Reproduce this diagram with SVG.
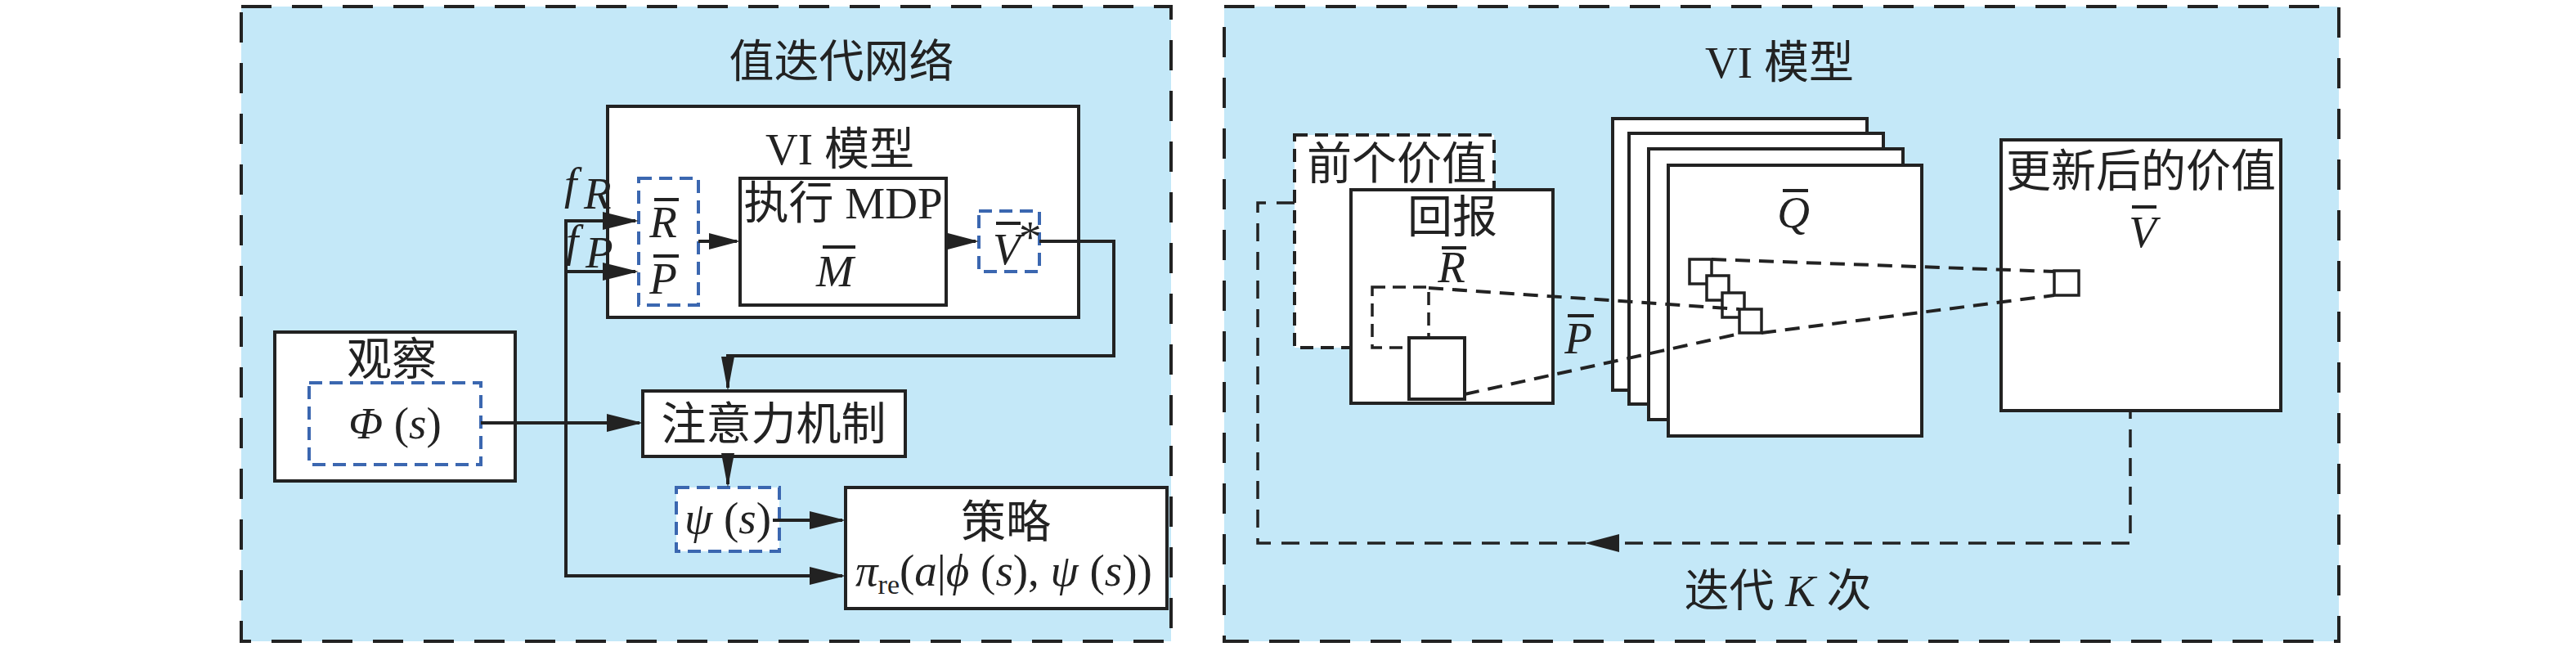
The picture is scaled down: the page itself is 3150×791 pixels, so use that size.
<svg xmlns="http://www.w3.org/2000/svg" width="3150" height="791" viewBox="0 0 3150 791">
<defs>
<style>
.panel{fill:#c4e8f8;stroke:#222;stroke-width:4;stroke-dasharray:37 25}
.box{fill:#fff;stroke:#222;stroke-width:4}
.bdash{fill:#fff;stroke:#3b67b0;stroke-width:4;stroke-dasharray:16 9}
.kdash{fill:#fff;stroke:#222;stroke-width:4;stroke-dasharray:16 9}
.kdash2{fill:none;stroke:#222;stroke-width:3.5;stroke-dasharray:16 9}
.sm{fill:#fff;stroke:#222;stroke-width:3.5}
.ln{fill:none;stroke:#222;stroke-width:4}
.dl{fill:none;stroke:#222;stroke-width:4;stroke-dasharray:18 11}
.loop{fill:none;stroke:#222;stroke-width:3.5;stroke-dasharray:22 13}
.bar{stroke:#222;stroke-width:4}
text{font-family:"Liberation Serif","Noto Sans CJK SC",serif;fill:#222;font-size:55px}
.m{font-style:italic}
.c{text-anchor:middle}
</style>
<marker id="ah" markerUnits="userSpaceOnUse" markerWidth="44" markerHeight="24" refX="40" refY="12" orient="auto"><path d="M0,1 L44,12 L0,23 Z" fill="#222"/></marker>
<marker id="ahs" markerUnits="userSpaceOnUse" markerWidth="38" markerHeight="22" refX="34" refY="11" orient="auto"><path d="M0,1 L38,11 L0,21 Z" fill="#222"/></marker>
<marker id="ahn" markerUnits="userSpaceOnUse" markerWidth="42" markerHeight="18" refX="38" refY="9" orient="auto"><path d="M0,1 L42,9 L0,17 Z" fill="#222"/></marker>
</defs>
<rect x="0" y="0" width="3150" height="791" fill="#fff"/>

<g id="panel-left">
<rect class="panel" x="295" y="8" width="1137" height="776"/>
<text class="c" x="1029" y="94" font-size="54">值迭代网络</text>
</g>

<g id="vi-box">
<rect class="box" x="743" y="130" width="576" height="258"/>
<text class="c" x="1027" y="201" font-size="54">VI 模型</text>
</g>

<g id="mdp-box">
<rect class="box" x="905" y="218" width="252" height="155"/>
<text class="c" x="1031" y="267">执行 MDP</text>
<text class="m c" x="1021" y="350" font-size="56">M</text>
<line class="bar" x1="1006" y1="302" x2="1046" y2="302"/>
</g>

<g id="rp-box">
<rect class="bdash" x="781" y="218" width="73" height="155"/>
<text class="m c" x="811" y="290" font-size="56">R</text>
<line class="bar" x1="800" y1="244" x2="830" y2="244"/>
<text class="m c" x="811" y="359" font-size="56">P</text>
<line class="bar" x1="799" y1="313" x2="830" y2="313"/>
</g>

<g id="vstar-box">
<rect class="bdash" x="1197" y="258" width="74" height="74"/>
<text class="m" x="1214" y="323" font-size="56">V</text>
<text x="1246" y="308" font-size="26">*</text>
<line class="bar" x1="1218" y1="273" x2="1248" y2="273"/>
</g>

<g id="labels-f">
<text class="m" x="690" y="243" font-size="52">f</text>
<text class="m" x="714" y="255" font-size="30">R</text>
<text class="m" x="692" y="313" font-size="52">f</text>
<text class="m" x="716" y="327" font-size="30">P</text>
</g>

<g id="obs-box">
<rect class="box" x="336" y="406" width="294" height="182"/>
<text class="c" x="479" y="458" font-size="54">观察</text>
<rect class="bdash" x="378" y="468" width="210" height="100"/>
<text class="c" x="483" y="536" font-size="56"><tspan class="m">Φ</tspan> (<tspan class="m">s</tspan>)</text>
</g>

<g id="attn-box">
<rect class="box" x="786" y="478" width="321" height="80"/>
<text class="c" x="946" y="537">注意力机制</text>
</g>

<g id="psi-box">
<rect class="bdash" x="827" y="596" width="126" height="78"/>
<text class="c" x="890" y="652" font-size="56"><tspan class="m">ψ</tspan> (<tspan class="m">s</tspan>)</text>
</g>

<g id="policy-box">
<rect class="box" x="1034" y="596" width="393" height="148"/>
<text class="c" x="1230" y="657">策略</text>
<text x="1046" y="716" font-size="55"><tspan class="m">π</tspan><tspan font-size="34" dy="10">re</tspan><tspan dy="-10">(</tspan><tspan class="m">a</tspan>|<tspan class="m">ϕ</tspan> (<tspan class="m">s</tspan>), <tspan class="m">ψ</tspan> (<tspan class="m">s</tspan>))</text>
</g>

<g id="panel-right">
<rect class="panel" x="1497" y="8" width="1363" height="776"/>
<text class="c" x="2176" y="95" font-size="54">VI 模型</text>
<text x="2174" y="741" class="c" font-size="54">迭代 <tspan class="m">K</tspan> 次</text>
</g>

<g id="prev-value">
<rect class="kdash" x="1583" y="165" width="244" height="260"/>
<text class="c" x="1708" y="219" font-size="54">前个价值</text>
</g>

<g id="reward-box">
<rect class="box" x="1652" y="232" width="247" height="261"/>
<text class="c" x="1776" y="284" font-size="54">回报</text>
<text class="m c" x="1775" y="345" font-size="54">R</text>
<line class="bar" x1="1763" y1="303" x2="1793" y2="303"/>
<rect class="kdash2" x="1678" y="351" width="69" height="74"/>
<rect class="box" x="1723" y="413" width="68" height="75"/>
</g>

<g id="q-stack">
<rect class="box" x="1972" y="145" width="311" height="332"/>
<rect class="box" x="1992" y="163" width="311" height="331"/>
<rect class="box" x="2016" y="182" width="311" height="331"/>
<rect class="box" x="2040" y="202" width="310" height="331"/>
<text class="m c" x="2193" y="278" font-size="54">Q</text>
<line class="bar" x1="2180" y1="233" x2="2211" y2="233"/>
<rect class="sm" x="2066" y="317" width="27" height="30"/>
<rect class="sm" x="2087" y="337" width="27" height="30"/>
<rect class="sm" x="2106" y="358" width="27" height="30"/>
<rect class="sm" x="2127" y="378" width="27" height="29"/>
</g>

<g id="updated-value">
<rect class="box" x="2447" y="171" width="342" height="331"/>
<text class="c" x="2618" y="228" font-size="55">更新后的价值</text>
<text class="m c" x="2620" y="302" font-size="54">V</text>
<line class="bar" x1="2607" y1="253" x2="2637" y2="253"/>
<rect class="sm" x="2512" y="331" width="30" height="30"/>
</g>

<g id="p-label">
<text class="m c" x="1930" y="432" font-size="54">P</text>
<line class="bar" x1="1917" y1="386" x2="1949" y2="386"/>
</g>

<g id="connectors">
<path class="ln" d="M692,270 L777,270" marker-end="url(#ah)"/>
<path class="ln" d="M692,332 L777,332" marker-end="url(#ah)"/>
<path class="ln" d="M692,268 L692,704 L1030,704" marker-end="url(#ah)"/>
<path class="ln" d="M854,295 L901,295" marker-end="url(#ahs)"/>
<path class="ln" d="M1157,295 L1193,295" marker-end="url(#ahs)"/>
<path class="ln" d="M1271,295 L1362,295 L1362,435 L890,435 L890,474" marker-end="url(#ahn)"/>
<path class="ln" d="M588,517 L782,517" marker-end="url(#ah)"/>
<path class="ln" d="M890,558 L890,592" marker-end="url(#ahn)"/>
<path class="ln" d="M945,636 L1030,636" marker-end="url(#ah)"/>
<path class="dl" d="M1747,352 L2127,378"/>
<path class="dl" d="M1791,482 L2127,408"/>
<path class="dl" d="M2093,317 L2512,332"/>
<path class="dl" d="M2154,407 L2512,361"/>
<path class="loop" d="M1583,248 L1538,248 L1538,664 L2605,664 L2605,502"/>
<polygon points="1938,664 1980,653 1980,675" fill="#222"/>
</g>
</svg>
